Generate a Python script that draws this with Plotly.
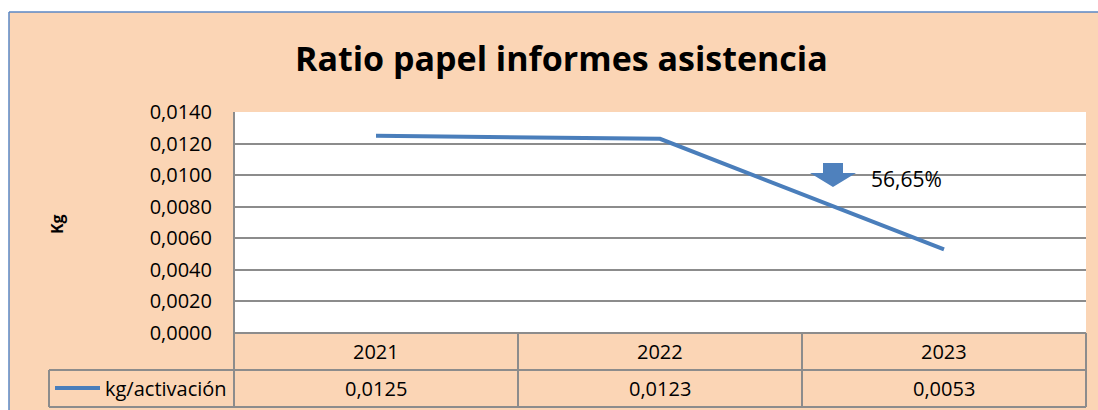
import plotly.graph_objects as go

# ---- data ----
years = ["2021", "2022", "2023"]
kg_per_activation = [0.0125, 0.0123, 0.0053]
value_labels = ["0,0125", "0,0123", "0,0053"]
series_name = "kg/activación"
title_text = "Ratio papel informes asistencia"
y_title = "Kg"
reduction_label = "56,65%"

# ---- layout geometry (pixels) ----
W, H = 1098, 410
L, R, T, B = 234, 1086, 112, 333


def px(x):
    return (x - L) / (R - L)


def py(y):
    return (B - y) / (B - T)


PEACH = "#FBD5B5"
GRID = "#8C8C8C"
LINE = "#4A7EBB"
BORDER = "#5B87C5"
FONT = "Open Sans"

fig = go.Figure()
fig.add_trace(go.Scatter(
    x=years, y=kg_per_activation, mode="lines", name=series_name,
    line=dict(color=LINE, width=4), showlegend=False, hoverinfo="skip",
))

shapes = []
# white outside the chart frame
shapes.append(dict(type="rect", xref="paper", yref="paper", x0=px(0), x1=px(W), y0=py(0), y1=py(12),
                   fillcolor="white", line=dict(width=0), layer="above"))
shapes.append(dict(type="rect", xref="paper", yref="paper", x0=px(0), x1=px(9), y0=py(0), y1=py(H),
                   fillcolor="white", line=dict(width=0), layer="above"))
# chart frame
shapes.append(dict(type="line", xref="paper", yref="paper", x0=px(9), x1=px(W), y0=py(12), y1=py(12),
                   line=dict(color=BORDER, width=1.5)))
shapes.append(dict(type="line", xref="paper", yref="paper", x0=px(9), x1=px(9), y0=py(12), y1=py(H),
                   line=dict(color=BORDER, width=1.5)))

# data table grid
tl = dict(color=GRID, width=2)
shapes.append(dict(type="line", xref="paper", yref="paper", x0=px(L), x1=px(R), y0=py(B), y1=py(B), line=tl))
for yy in (370, 407):
    shapes.append(dict(type="line", xref="paper", yref="paper", x0=px(49), x1=px(R), y0=py(yy), y1=py(yy), line=tl))
shapes.append(dict(type="line", xref="paper", yref="paper", x0=px(L), x1=px(L), y0=py(T), y1=py(407), line=tl))
shapes.append(dict(type="line", xref="paper", yref="paper", x0=px(49), x1=px(49), y0=py(370), y1=py(407), line=tl))
for i in range(1, len(years) + 1):
    xb = i / len(years)
    shapes.append(dict(type="line", xref="paper", yref="paper", x0=xb, x1=xb, y0=py(B), y1=py(407), line=tl))

# legend key in table
shapes.append(dict(type="line", xref="paper", yref="paper", x0=px(55), x1=px(100), y0=py(388), y1=py(388),
                   line=dict(color=LINE, width=4)))

# down arrow
pts = [(823, 163), (843, 163), (843, 173), (856, 173), (833, 187), (810, 173), (823, 173)]
path = "M " + " L ".join(f"{px(a):.5f},{py(b):.5f}" for a, b in pts) + " Z"
shapes.append(dict(type="path", xref="paper", yref="paper", path=path, fillcolor="#4F81BD",
                   line=dict(width=0)))


def ann(text, x, y, size, xref="paper", xanchor="center", **kw):
    return dict(text=text, xref=xref, yref="paper", x=x, y=y, xanchor=xanchor, yanchor="middle",
                showarrow=False, font=dict(family=FONT, size=size, color="black"), **kw)


annotations = [
    ann(f"<b>{title_text}</b>", px(561), py(58), 34),
    ann(f"<b>{y_title}</b>", px(57), py(224), 16, textangle=-90),
]
for i, lab in enumerate(value_labels):
    annotations.append(ann(years[i], i, py(351.5), 20, xref="x"))
    annotations.append(ann(lab, i, py(388.5), 20, xref="x"))
annotations.append(ann(series_name, px(103), py(388.5), 20, xanchor="left"))
annotations.append(ann(reduction_label, px(869), py(179), 21, xanchor="left"))

fig.update_layout(
    width=W, height=H,
    margin=dict(l=L, r=W - R, t=T, b=H - B, pad=0),
    paper_bgcolor=PEACH, plot_bgcolor="white",
    separators=",.",
    xaxis=dict(type="category", range=[-0.5, len(years) - 0.5], showticklabels=False, showgrid=False,
               zeroline=False, showline=False, fixedrange=True),
    yaxis=dict(range=[0, 0.014], dtick=0.002, tick0=0, tickformat=".4f", showgrid=True, gridcolor=GRID,
               gridwidth=1.5, zeroline=False, showline=False, ticks="", ticklabelstandoff=21,
               tickfont=dict(family=FONT, size=20, color="black"), fixedrange=True),
    shapes=shapes, annotations=annotations, showlegend=False,
)

fig.write_html("out.html", config={"displayModeBar": False},
               post_script="document.body.style.margin='0px';")
